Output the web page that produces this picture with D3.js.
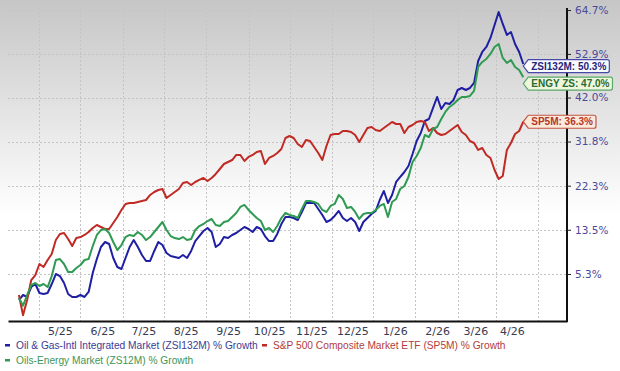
<!DOCTYPE html>
<html>
<head>
<meta charset="utf-8">
<script src="https://cdn.jsdelivr.net/npm/d3@7"></script>
<style>
  body { margin: 0; background: #fff; }
</style>
</head>
<body>
<svg id="chart" width="620" height="371"></svg>
<script>
// sampled every 3 days starting 4/1/25
var startDate = new Date(2025, 3, 1),
    stepDays = 3;

var zsi132m = [0.76,1.62,1.28,3.00,3.53,1.96,1.79,1.96,3.53,5.30,
  4.94,3.71,1.79,1.28,1.28,1.62,1.28,2.14,5.48,8.01,
  10.23,11.17,10.79,8.20,6.56,6.20,8.20,10.23,11.54,10.23,
  8.75,7.65,7.65,9.49,11.17,10.60,9.12,8.57,8.38,8.20,
  8.75,8.20,9.49,11.35,12.30,13.26,13.84,13.07,10.23,10.79,
  12.11,11.92,12.50,12.88,13.45,14.03,13.65,13.07,14.03,13.65,
  12.30,11.35,11.35,12.69,14.61,15.98,15.98,15.78,15.39,16.97,
  18.77,18.77,18.77,17.57,16.38,15.00,15.39,16.18,17.17,15.78,
  15.19,15.78,15.00,13.26,15.00,15.78,16.57,17.17,19.37,21.21,
  18.77,20.39,23.07,24.12,25.17,26.45,29.05,31.92,33.72,36.47,
  36.93,39.52,42.14,39.28,40.70,40.46,41.42,43.83,44.32,43.83,
  44.32,45.55,51.08,53.40,54.71,57.09,60.59,64.16,60.86,57.89,
  58.69,55.50,53.40,50.3];

var sp5m = [1.62,-1.8,0.76,4.23,5.12,7.10,6.56,7.83,8.93,11.54,
  12.69,12.88,11.73,10.41,11.92,12.11,12.50,13.07,13.84,14.42,
  14.03,13.65,13.65,14.80,15.98,17.37,18.57,18.77,18.77,18.97,
  19.17,19.37,20.39,21.00,21.41,21.62,19.78,20.39,21.00,21.62,
  22.87,23.07,22.45,23.07,23.49,23.91,23.28,23.91,24.76,25.81,
  26.88,27.31,27.74,28.84,28.84,27.53,28.40,28.84,29.49,29.71,
  26.88,28.18,28.62,29.27,30.15,32.59,33.04,32.59,31.26,30.59,
  32.14,31.92,30.59,29.27,27.74,30.81,33.27,33.49,33.49,34.17,
  34.17,33.95,33.27,31.70,33.27,34.86,35.09,34.40,34.17,34.86,
  35.55,36.24,35.78,35.78,33.72,35.09,35.55,36.24,36.47,36.24,
  34.17,34.86,33.72,33.27,33.49,34.17,34.86,35.55,33.95,33.27,
  31.92,31.48,29.93,30.37,28.84,28.18,25.60,23.70,24.33,29.93,
  31.48,33.49,34.17,36.3];

var zs12m = [1.10,-0.2,1.62,3.35,3.71,3.18,3.53,3.00,4.94,7.83,
  8.01,7.10,5.66,5.66,6.38,6.92,7.83,8.01,10.41,12.50,
  13.45,13.65,12.88,11.17,9.67,10.60,12.11,12.50,12.30,13.07,
  12.50,11.54,12.11,13.07,14.03,15.00,13.45,12.30,11.92,11.73,
  12.11,11.54,11.73,13.45,14.22,14.61,15.19,15.59,14.42,14.22,
  15.00,15.19,15.98,16.77,17.97,18.37,17.37,16.57,15.78,15.19,
  13.45,13.84,13.07,14.22,15.78,16.77,16.38,16.18,15.78,17.57,
  19.17,19.17,18.97,18.57,17.37,16.97,18.17,18.57,20.39,19.58,
  17.77,17.97,16.97,15.59,16.57,16.77,16.77,17.37,18.17,18.57,
  15.98,18.97,19.58,21.62,22.24,24.12,27.31,28.62,30.37,33.27,
  32.81,34.63,35.09,36.93,38.57,39.75,40.46,41.42,42.14,42.14,
  42.38,43.59,49.55,50.83,51.60,52.89,54.71,55.50,51.86,50.57,
  51.34,49.55,48.79,47.0];

var yTicks = [5.3, 13.5, 22.3, 31.8, 42.0, 52.9, 64.7];
var monthTicks = ["2025-05-01","2025-06-01","2025-07-01","2025-08-01","2025-09-01","2025-10-01",
  "2025-11-01","2025-12-01","2026-01-01","2026-02-01","2026-03-01","2026-04-01"];

var series = [
  {key: "ZSI132M", tag: "ZSI132M", values: zsi132m, color: "#1f1fa3", text: "#25257a", fill: "#fbfbff", border: "#4848a8",
   legend: "Oil & Gas-Intl Integrated Market (ZSI132M) % Growth", legendColor: "#3b3b96"},
  {key: "SP5M", tag: "SP5M", values: sp5m, color: "#c02a24", text: "#b3362b", fill: "#fbe9da", border: "#c25445",
   legend: "S&P 500 Composite Market ETF (SP5M) % Growth", legendColor: "#b23c3c"},
  {key: "ZS12M", tag: "ENGY ZS", values: zs12m, color: "#2f9a52", text: "#2a6a33", fill: "#eef7dc", border: "#5aa86a",
   legend: "Oils-Energy Market (ZS12M) % Growth", legendColor: "#3d9658"}
];

var svg = d3.select("#chart"),
    width = +svg.attr("width"),
    height = +svg.attr("height"),
    plot = {left: 8, right: 567, top: 8, bottom: 321};

var x = d3.scaleTime()
    .domain([new Date(2025, 2, 24), new Date(2026, 4, 7)])
    .range([plot.left, plot.right]);

// growth is drawn on a log scale of (1 + g)
var y = d3.scaleLog()
    .domain([0.9724, 1.6527])
    .range([plot.bottom, plot.top]);

function yPct(v) { return y(1 + v / 100); }
function dateAt(i) { return d3.timeDay.offset(startDate, i * stepDays); }

// background
var grad = svg.append("defs").append("linearGradient")
    .attr("id", "bg").attr("x1", 0).attr("y1", 0).attr("x2", 0).attr("y2", 1);
grad.append("stop").attr("offset", "0%").attr("stop-color", "#c6c6c6");
grad.append("stop").attr("offset", "58%").attr("stop-color", "#ffffff");
svg.append("rect").attr("width", width).attr("height", height).attr("fill", "url(#bg)");

// grid
var gridDates = d3.timeMonth.range(new Date(2025, 3, 1), new Date(2026, 4, 1))
    .map(function(d) { return d3.timeDay.offset(d, 15); });

svg.append("g")
    .attr("stroke", "#c4c4c4")
    .attr("stroke-dasharray", "2,2")
  .selectAll("line")
  .data(gridDates)
  .enter().append("line")
    .attr("x1", function(d) { return Math.round(x(d)) + 0.5; })
    .attr("x2", function(d) { return Math.round(x(d)) + 0.5; })
    .attr("y1", plot.top)
    .attr("y2", plot.bottom);

svg.append("g")
    .attr("stroke", "#c4c4c4")
    .attr("stroke-dasharray", "2,2")
  .selectAll("line")
  .data(yTicks)
  .enter().append("line")
    .attr("x1", plot.left)
    .attr("x2", plot.right)
    .attr("y1", function(d) { return Math.round(yPct(d)) + 0.5; })
    .attr("y2", function(d) { return Math.round(yPct(d)) + 0.5; });

// lines
var line = d3.line()
    .x(function(d, i) { return x(dateAt(i)); })
    .y(function(d) { return yPct(d); });

svg.append("g")
  .selectAll("path")
  .data(series)
  .enter().append("path")
    .attr("fill", "none")
    .attr("stroke", function(d) { return d.color; })
    .attr("stroke-width", 2)
    .attr("stroke-linejoin", "round")
    .attr("d", function(d) { return line(d.values); });

// bottom axis
var xAxis = svg.append("g")
    .attr("transform", "translate(0," + plot.bottom + ")")
    .call(d3.axisBottom(x)
      .tickValues(monthTicks.map(function(s) { return d3.timeParse("%Y-%m-%d")(s); }))
      .tickSize(0)
      .tickPadding(6)
      .tickFormat(d3.timeFormat("%-m/%y")));
xAxis.select(".domain").attr("stroke", "#111").attr("stroke-width", 2);
xAxis.selectAll("text")
    .attr("fill", "#3a3a52")
    .attr("font-family", "DejaVu Sans")
    .attr("font-size", 11);
// last label sits a little left, as in the original
xAxis.selectAll(".tick").filter(function(d, i) { return i === monthTicks.length - 1; })
    .select("text").attr("dx", -6);

// right axis
var yAxis = svg.append("g")
    .attr("transform", "translate(" + plot.right + ",0)")
    .call(d3.axisRight(y)
      .tickValues(yTicks.map(function(v) { return 1 + v / 100; }))
      .tickSize(4)
      .tickPadding(4)
      .tickFormat(function(d) { return ((d - 1) * 100).toFixed(1) + "%"; }));
yAxis.select(".domain").attr("stroke", "#111").attr("stroke-width", 2)
    .attr("d", "M0," + plot.top + "V" + (plot.bottom + 1));
yAxis.selectAll(".tick line").attr("stroke", "#222");
yAxis.selectAll("text")
    .attr("fill", "#4a4a9a")
    .attr("font-family", "DejaVu Sans")
    .attr("font-size", 10.5);

// end-value tags, nudged apart when they collide
var tags = series.map(function(s) {
  var last = s.values.length - 1;
  return {s: s, tx: x(dateAt(last)), ty: yPct(s.values[last]), v: s.values[last]};
}).sort(function(a, b) { return a.ty - b.ty; });
tags.forEach(function(t, i) {
  t.cy = t.ty;
  if (i > 0 && t.cy < tags[i - 1].ty + 17.5) {
    tags[i - 1].cy = tags[i - 1].ty + 2;
    t.cy = tags[i - 1].cy + 17.5;
  }
});

var tag = svg.append("g").selectAll("g")
    .data(tags)
  .enter().append("g");

tag.append("text")
    .attr("font-family", "Liberation Sans")
    .attr("font-weight", "bold")
    .attr("font-size", 10)
    .attr("fill", function(d) { return d.s.text; })
    .attr("x", function(d) { return d.tx + 8; })
    .attr("y", function(d) { return d.cy + 3.6; })
    .text(function(d) { return d.s.tag + ": " + d.v.toFixed(1) + "%"; })
    .each(function(d) { d.w = this.getComputedTextLength() + 6; });

tag.insert("path", "text")
    .attr("fill", function(d) { return d.s.fill; })
    .attr("stroke", function(d) { return d.s.border; })
    .attr("stroke-width", 1.2)
    .attr("d", function(d) {
      var bx = d.tx + 5, t = d.cy - 6.5, b = d.cy + 6.5, r = bx + d.w;
      return "M" + d.tx + "," + d.cy + "L" + bx + "," + t + "L" + (r - 2) + "," + t +
        "Q" + r + "," + t + " " + r + "," + (t + 2) + "L" + r + "," + (b - 2) +
        "Q" + r + "," + b + " " + (r - 2) + "," + b + "L" + bx + "," + b + "Z";
    });

// legend
var legendPos = [[5, 345], [262, 345], [5, 360]];
var legend = svg.append("g")
    .attr("font-family", "Liberation Sans")
    .attr("font-size", 10.2)
  .selectAll("g")
  .data(series)
  .enter().append("g")
    .attr("transform", function(d, i) { return "translate(" + legendPos[i][0] + "," + legendPos[i][1] + ")"; });

legend.append("rect")
    .attr("x", 0).attr("y", -1)
    .attr("width", 5).attr("height", 2.5)
    .attr("fill", function(d) { return d.color; });

legend.append("text")
    .attr("x", 11)
    .attr("dy", "0.35em")
    .attr("fill", function(d) { return d.legendColor; })
    .text(function(d) { return d.legend; });
</script>
</body>
</html>
